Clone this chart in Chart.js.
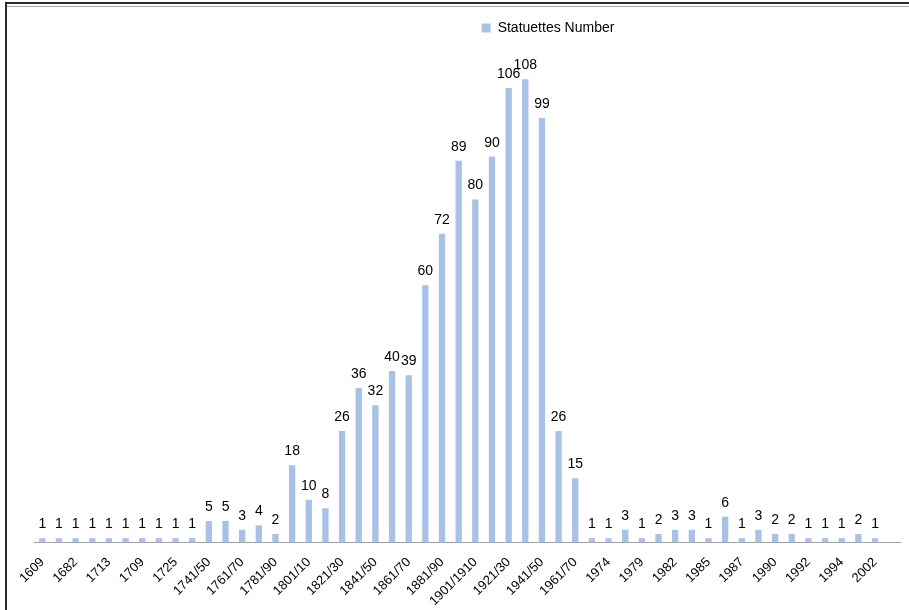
<!DOCTYPE html>
<html>
<head>
<meta charset="utf-8">
<script src="https://cdn.jsdelivr.net/npm/chart.js@4.4.1/dist/chart.umd.min.js"></script>
<style>
  html, body { margin: 0; padding: 0; background: #fff; }
  #wrap { position: relative; width: 909px; height: 610px; overflow: hidden; }
  #c { position: absolute; left: 0; top: 0; }
  .l1 { position: absolute; left: 5px; top: 2px; width: 904px; height: 2px; background: #2b2b2b; }
  .l2 { position: absolute; left: 7px; top: 6px; width: 902px; height: 1px; background: #a8a8a8; }
  .lv { position: absolute; left: 5px; top: 2px; width: 2px; height: 608px; background: #2b2b2b; }
</style>
</head>
<body>
<div id="wrap">
  <canvas id="c" width="909" height="610"></canvas>
  <div class="l1"></div><div class="l2"></div><div class="lv"></div>
</div>
<script>
const seriesName = "Statuettes Number";
const categories = ["1609","","1682","","1713","","1709","","1725","","1741/50","","1761/70","","1781/90","","1801/10","","1821/30","","1841/50","","1861/70","","1881/90","","1901/1910","","1921/30","","1941/50","","1961/70","","1974","","1979","","1982","","1985","","1987","","1990","","1992","","1994","","2002",""];
const statuettes = [1,1,1,1,1,1,1,1,1,1,5,5,3,4,2,18,10,8,26,36,32,40,39,60,72,89,80,90,106,108,99,26,15,1,1,3,1,2,3,3,1,6,1,3,2,2,1,1,1,2,1,null];

const FONT = "'Liberation Sans', Arial, sans-serif";

const valueLabels = {
  id: 'valueLabels',
  afterDatasetsDraw(chart) {
    const ctx = chart.ctx;
    const meta = chart.getDatasetMeta(0);
    ctx.save();
    ctx.font = "14px " + FONT;
    ctx.fillStyle = "#000";
    ctx.textAlign = "center";
    ctx.textBaseline = "alphabetic";
    meta.data.forEach((el, i) => {
      const v = statuettes[i];
      if (v === null || v === undefined) return;
      ctx.fillText(String(v), el.x, el.y - 10);
    });
    ctx.restore();
  }
};

const legendShift = {
  id: 'legendShift',
  afterLayout(chart) {
    if (chart.legend) { chart.legend.left += 81; chart.legend.right += 81; }
  }
};

new Chart(document.getElementById('c'), {
  type: 'bar',
  data: {
    labels: categories,
    datasets: [{
      label: seriesName,
      data: statuettes,
      backgroundColor: '#a8c2e6',
      borderWidth: 0,
      categoryPercentage: 1,
      barPercentage: 0.38
    }]
  },
  options: {
    responsive: false,
    animation: false,
    layout: { padding: { left: 34, right: 9, top: 7, bottom: -11 } },
    plugins: {
      legend: {
        display: true,
        position: 'top',
        labels: {
          boxWidth: 9, boxHeight: 9, padding: 14,
          color: '#000',
          font: { family: FONT, size: 14 }
        }
      },
      tooltip: { enabled: false }
    },
    scales: {
      x: {
        grid: { display: false, drawTicks: false },
        border: { display: true, color: '#a0a0a0', width: 1 },
        ticks: {
          autoSkip: false, minRotation: 45, maxRotation: 45,
          padding: 12, color: '#000',
          font: { family: FONT, size: 13 }
        },
        afterFit(scale) { scale.paddingRight = 0; scale.paddingLeft = 0; }
      },
      y: {
        display: false,
        min: 0, max: 116
      }
    }
  },
  plugins: [valueLabels, legendShift]
});
</script>
</body>
</html>
